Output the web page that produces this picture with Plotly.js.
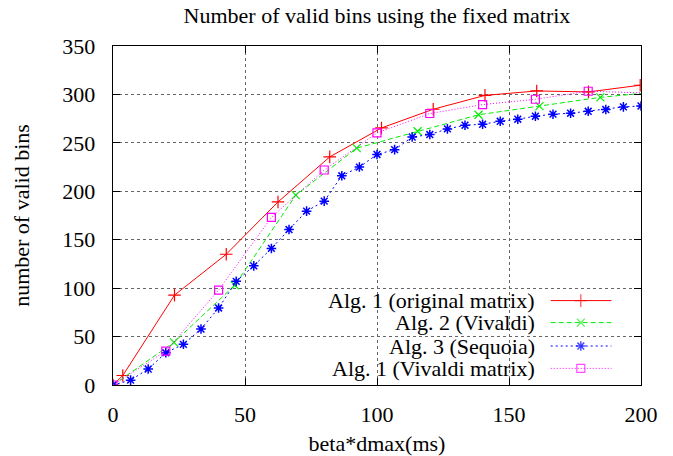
<!DOCTYPE html>
<html>
<head>
<meta charset="utf-8">
<script src="https://cdn.plot.ly/plotly-3.0.1.min.js"></script>
<style>html,body{margin:0;padding:0;background:#fff;}#chart{width:673px;height:456px;}</style>
</head>
<body>
<div id="chart"></div>
<script>
// ---- data ----
const seriesNames = ["Alg. 1 (original matrix)", "Alg. 2 (Vivaldi)", "Alg. 3 (Sequoia)", "Alg. 1 (Vivaldi matrix)"];

const alg1OrigX = [0, 3.7, 23.3, 42.9, 62.5, 82.1, 101.7, 121.3, 140.9, 160.5, 180.1, 199.7];
const alg1OrigY = [0, 9.8, 92.8, 135, 189, 235.5, 265.4, 284.7, 299, 303.6, 302.6, 309.5];

const alg2X = [0, 23.08, 46.15, 69.23, 92.31, 115.38, 138.46, 161.54, 184.62, 207.69];
const alg2Y = [0, 44, 103, 196, 244.5, 262, 279, 288, 297, 303];

const alg3X = [0, 6.67, 13.33, 20, 26.67, 33.33, 40, 46.67, 53.33, 60, 66.67, 73.33, 80, 86.67, 93.33,
               100, 106.67, 113.33, 120, 126.67, 133.33, 140, 146.67, 153.33, 160, 166.67, 173.33, 180, 186.67, 193.33, 200];
const alg3Y = [0, 5, 16.5, 33.3, 42, 57.8, 79.5, 107, 123, 141, 160.5, 179.5, 189.8, 216, 225,
               238, 243, 256, 258.6, 264.4, 268.2, 269.2, 272.3, 274.4, 277.5, 279.6, 280.6, 282.6, 284.4, 287.1, 288.1];

const alg1VivX = [0, 20, 40, 60, 80, 100, 120, 140, 160, 180, 220];
const alg1VivY = [0, 35, 98, 173, 222, 260.3, 280.3, 289.5, 295, 303.3, 300];

const xTicks = [0, 50, 100, 150, 200];
const yTicks = [0, 50, 100, 150, 200, 250, 300, 350];

// ---- styles ----
const styles = [
  {color: "#ff0000", dash: "solid", symbol: "cross-thin-open", size: 9, lw: 1.2},
  {color: "#00ee00", dash: "5px,3px", symbol: "x-thin-open", size: 8, lw: 1.2},
  {color: "#0000ff", dash: "2px,3px", symbol: "asterisk-open", size: 8, lw: 1.5},
  {color: "#ff00ff", dash: "1px,2px", symbol: "square-open", size: 8, lw: 1.2}
];
const xs = [alg1OrigX, alg2X, alg3X, alg1VivX];
const ys = [alg1OrigY, alg2Y, alg3Y, alg1VivY];

const FONT = "'Liberation Serif', 'Times New Roman', serif";
const FS = 22;
const traces = [];
xs.forEach((x, i) => {
  traces.push({
    x: x, y: ys[i], name: seriesNames[i], type: "scatter", mode: "lines+markers",
    line: {color: styles[i].color, width: 1, dash: styles[i].dash},
    marker: {symbol: styles[i].symbol, size: styles[i].size, color: styles[i].color,
             line: {color: styles[i].color, width: styles[i].lw}},
    showlegend: false
  });
});

// manual gnuplot-style key: text right-aligned, sample to the right
const keyRows = [0.249, 0.184, 0.115, 0.049];
const keyLineX = [0.829, 0.886, 0.944];
const keyTextX = 0.803;
const annotations = [];
seriesNames.forEach((n, i) => {
  traces.push({
    x: keyLineX, y: [keyRows[i], keyRows[i], keyRows[i]], xaxis: "x2", yaxis: "y2",
    type: "scatter", mode: "lines+markers", hoverinfo: "skip", showlegend: false,
    line: {color: styles[i].color, width: 1, dash: styles[i].dash},
    marker: {symbol: styles[i].symbol, size: [0, styles[i].size, 0], color: styles[i].color,
             line: {color: styles[i].color, width: styles[i].lw}}
  });
  annotations.push({
    xref: "paper", yref: "paper", x: keyTextX, y: keyRows[i], xanchor: "right", yanchor: "middle",
    text: n, showarrow: false, font: {family: FONT, size: FS, color: "#000"}
  });
});

const axisCommon = {
  showline: true, linecolor: "#000", linewidth: 1.3, mirror: "ticks",
  ticks: "inside", ticklen: 7, tickwidth: 1, tickcolor: "#000",
  showgrid: true, gridcolor: "#666", griddash: "dot", gridwidth: 1,
  zeroline: false, tickfont: {family: FONT, size: FS, color: "#000"}
};

const layout = {
  width: 673, height: 456,
  margin: {l: 113, r: 32, t: 46, b: 71},
  paper_bgcolor: "#fff", plot_bgcolor: "#fff",
  title: {text: "Number of valid bins using the fixed matrix", x: 0.5, xref: "paper",
          y: 0.967, yref: "container", yanchor: "middle",
          font: {family: FONT, size: FS, color: "#000"}},
  xaxis: Object.assign({}, axisCommon, {
    range: [0, 200], tickvals: xTicks, ticklabelstandoff: 9,
    title: {text: "beta*dmax(ms)", font: {family: FONT, size: FS, color: "#000"}, standoff: 12}
  }),
  yaxis: Object.assign({}, axisCommon, {
    range: [0, 350], tickvals: yTicks, ticklabelstandoff: 12,
    title: {text: "number of valid bins", font: {family: FONT, size: FS, color: "#000"}, standoff: 26}
  }),
  xaxis2: {overlaying: "x", range: [0, 1], visible: false, fixedrange: true},
  yaxis2: {overlaying: "y", range: [0, 1], visible: false, fixedrange: true},
  shapes: [{type: "rect", xref: "paper", yref: "paper", x0: 0.184, x1: 0.998, y0: 0.003, y1: 0.28,
            fillcolor: "#fff", line: {width: 0}, layer: "between"}],
  annotations: annotations,
  showlegend: false
};

Plotly.newPlot("chart", traces, layout, {staticPlot: true, displayModeBar: false});
</script>
</body>
</html>
